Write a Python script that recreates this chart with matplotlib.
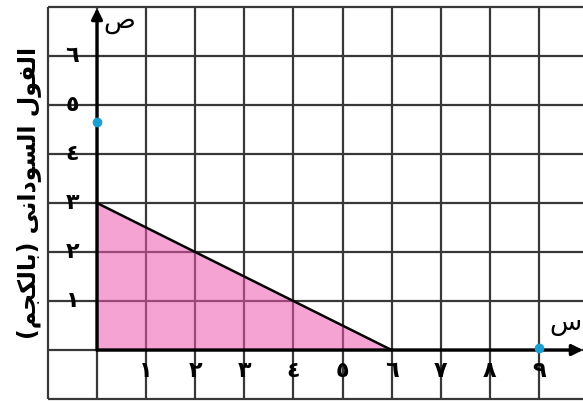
import matplotlib
matplotlib.use('Agg')
import matplotlib.pyplot as plt

# البيانات
region_x = [0, 0, 6]
region_y = [0, 3, 0]
dots_x = [0, 9]
dots_y = [4.65, 0.05]
x_ticks = [1, 2, 3, 4, 5, 6, 7, 8, 9]
y_ticks = [1, 2, 3, 4, 5, 6]
x_tick_labels = ['١', '٢', '٣', '٤', '٥', '٦', '٧', '٨', '٩']
y_tick_labels = ['١', '٢', '٣', '٤', '٥', '٦']
x_name = 'س'
y_name = 'ص'
# "الفول السودانى (بالكجم)" بأشكال العرض (presentation forms) لأن matplotlib لا يشكّل العربية
y_title_logical = ('\uFE8D\uFEDF\uFED4\uFEEE\uFEDD' + ' ' +
                   '\uFE8D\uFEDF\uFEB4\uFEEE\uFEA9\uFE8D\uFEE7\uFEF0' + ' ' +
                   '(\uFE91\uFE8E\uFEDF\uFEDC\uFEA0\uFEE2)')


def visual(s):
    # عكس الترتيب للعرض من اليسار لليمين مع قلب الأقواس
    swap = {'(': ')', ')': '('}
    return ''.join(swap.get(c, c) for c in reversed(s))


plt.rcParams['font.family'] = ['DejaVu Sans']

fig = plt.figure(figsize=(5.83, 4.01), dpi=100)
ax = fig.add_axes([0, 0, 1, 1])
ax.set_xlim(-1.976, 9.898)
ax.set_ylim(-1.04, 7.143)
ax.axis('off')

# الشبكة
grid_c = '#383838'
ax.hlines(range(-1, 8), -1, 9.898, colors=grid_c, lw=1.6, zorder=1)
ax.vlines(range(-1, 10), -1, 7, colors=grid_c, lw=1.6, zorder=1)

# المنطقة المظللة
ax.fill(region_x, region_y, color='#ec58af', alpha=0.55, lw=0, zorder=2)
ax.plot([region_x[1], region_x[2]], [region_y[1], region_y[2]], color='k', lw=1.8, zorder=3)

# المحاور
ax.annotate('', xy=(9.898, 0), xytext=(0, 0),
            arrowprops=dict(arrowstyle='-|>', lw=2.4, color='k', mutation_scale=16,
                            shrinkA=0, shrinkB=0), zorder=4)
ax.annotate('', xy=(0, 6.98), xytext=(0, 0),
            arrowprops=dict(arrowstyle='-|>', lw=2.4, color='k', mutation_scale=16,
                            shrinkA=0, shrinkB=0), zorder=4)

ax.plot(dots_x, dots_y, 'o', color='#1a9fcf', ms=6, zorder=5, clip_on=False)

for x, lab in zip(x_ticks, x_tick_labels):
    ax.text(x, -0.42, lab, ha='center', va='center', fontsize=16, fontweight='bold')
for y, lab in zip(y_ticks, y_tick_labels):
    ax.text(-0.5, y, lab, ha='center', va='center', fontsize=16, fontweight='bold')

ax.text(9.55, 0.55, x_name, ha='center', va='center', fontsize=19)
ax.text(0.45, 6.72, y_name, ha='center', va='center', fontsize=19)

ax.text(-1.4, 3.2, visual(y_title_logical), rotation=90, ha='center', va='center',
        fontsize=17, fontweight='bold')

fig.savefig('out.png', dpi=100)
